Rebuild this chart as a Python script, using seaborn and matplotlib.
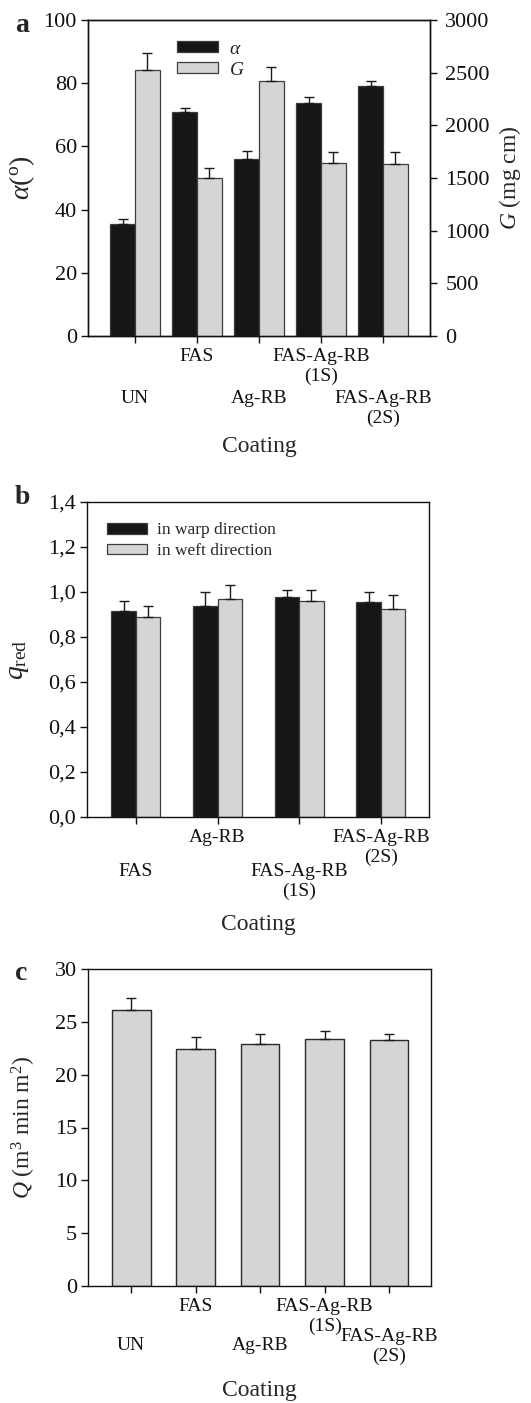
import numpy as np
import pandas as pd
import matplotlib
matplotlib.use("Agg")
import matplotlib.pyplot as plt
from matplotlib.patches import Patch
import seaborn as sns

# ---------------- data ----------------
coatings_a = ["UN", "FAS", "Ag-RB", "FAS-Ag-RB\n(1S)", "FAS-Ag-RB\n(2S)"]
alpha_vals = [35.5, 70.9, 56.0, 73.6, 79.2]
alpha_err = [1.5, 1.4, 2.4, 2.1, 1.6]
g_vals = [2522, 1500, 2418, 1646, 1630]
g_err = [162, 98, 139, 101, 120]

coatings_b = ["FAS", "Ag-RB", "FAS-Ag-RB\n(1S)", "FAS-Ag-RB\n(2S)"]
warp_vals = [0.917, 0.936, 0.979, 0.954]
warp_err = [0.041, 0.064, 0.028, 0.046]
weft_vals = [0.891, 0.969, 0.962, 0.923]
weft_err = [0.045, 0.063, 0.045, 0.065]

coatings_c = ["UN", "FAS", "Ag-RB", "FAS-Ag-RB\n(1S)", "FAS-Ag-RB\n(2S)"]
q_vals = [26.1, 22.4, 22.9, 23.4, 23.3]
q_err = [1.2, 1.15, 0.95, 0.75, 0.55]

yticks_a_left = [0, 20, 40, 60, 80, 100]
yticks_a_right = [0, 500, 1000, 1500, 2000, 2500, 3000]
yticks_b = [0.0, 0.2, 0.4, 0.6, 0.8, 1.0, 1.2, 1.4]
yticklabels_b = ["0,0", "0,2", "0,4", "0,6", "0,8", "1,0", "1,2", "1,4"]
yticks_c = [0, 5, 10, 15, 20, 25, 30]

series_a = ["α", "G"]
series_b = ["in warp direction", "in weft direction"]

# ---------------- style ----------------
sns.set_style("ticks")
plt.rcParams["font.family"] = ["Liberation Serif", "DejaVu Serif"]
plt.rcParams["mathtext.fontset"] = "custom"
plt.rcParams["mathtext.rm"] = "Liberation Serif"
plt.rcParams["mathtext.it"] = "Liberation Serif:italic"
plt.rcParams["mathtext.bf"] = "Liberation Serif:bold"
plt.rcParams["axes.linewidth"] = 1.0
plt.rcParams["axes.edgecolor"] = "#111111"

BLACK = "#161616"
GREY = "#d4d5d4"
EDGE = "#3c3c3c"
TICK_FS = 16
XT_FS = 14
LAB_FS = 17

fig = plt.figure(figsize=(5.31, 14.03), dpi=100)
W, H = 531.0, 1403.0


def add_ax(left, right, top, bottom):
    return fig.add_axes([left / W, 1 - bottom / H, (right - left) / W, (bottom - top) / H])


def add_errors(ax, errs_sorted):
    bars = sorted([p for p in ax.patches if p.get_height() > 0], key=lambda p: p.get_x())
    xs = [p.get_x() + p.get_width() / 2 for p in bars]
    ys = [p.get_height() for p in bars]
    ax.errorbar(xs, ys, yerr=[np.zeros(len(ys)), errs_sorted], fmt="none",
                ecolor="#1a1a1a", elinewidth=1.0, capsize=3.3, capthick=1.0, zorder=5)


def style_axis(ax):
    ax.tick_params(axis="both", direction="out", length=5, width=1, colors="#111111")
    ax.tick_params(axis="y", labelsize=TICK_FS, pad=3)
    ax.tick_params(axis="x", labelsize=XT_FS)
    for s in ax.spines.values():
        s.set_visible(True)
        s.set_linewidth(1.0)


def stagger(ax, pads):
    ticks = ax.xaxis.get_major_ticks()
    for t, p in zip(ticks, pads):
        t.set_pad(p)


# ================= panel a =================
ax = add_ax(88, 430, 20, 336)
df_a1 = pd.DataFrame({"Coating": coatings_a, "val": alpha_vals, "s": series_a[0]})
df_a2 = pd.DataFrame({"Coating": coatings_a, "val": g_vals, "s": series_a[1]})
pal_a = {series_a[0]: BLACK, series_a[1]: GREY}
sns.barplot(data=df_a1, x="Coating", y="val", hue="s", hue_order=series_a,
            palette=pal_a, width=0.8, gap=0, dodge=True, saturation=1,
            edgecolor=EDGE, linewidth=0.9, legend=False, ax=ax, zorder=2)
add_errors(ax, alpha_err)
ax.set_ylim(0, 100)
ax.set_yticks(yticks_a_left)
ax2 = ax.twinx()
sns.barplot(data=df_a2, x="Coating", y="val", hue="s", hue_order=series_a,
            palette=pal_a, width=0.8, gap=0, dodge=True, saturation=1,
            edgecolor=EDGE, linewidth=0.9, legend=False, ax=ax2, zorder=2)
add_errors(ax2, g_err)
ax2.set_ylim(0, 3000)
ax2.set_yticks(yticks_a_right)
ax.set_xlim(-0.76, 4.76)
for a in (ax, ax2):
    style_axis(a)
ax2.tick_params(axis="y", labelsize=TICK_FS, pad=6)
ax.set_ylabel(r"$\alpha$($^{\rm o}$)", fontsize=LAB_FS + 3)
ax.yaxis.set_label_coords(-0.15, 0.5)
ax2.set_ylabel(r"$G$ (mg cm)", fontsize=LAB_FS)
ax2.yaxis.set_label_coords(1.195, 0.5)
ax.set_xlabel("Coating", fontsize=LAB_FS)
ax.xaxis.set_label_coords(0.5, -0.315)
ax2.set_xlabel("")
stagger(ax, [34, 3.5, 34, 3.5, 34])
handles = [Patch(facecolor=BLACK, edgecolor=EDGE, linewidth=0.9),
           Patch(facecolor=GREY, edgecolor=EDGE, linewidth=0.9)]
ax2.legend(handles, [r"$\alpha$", r"$G$"], loc="upper left", bbox_to_anchor=(0.26, 0.935),
           frameon=False, fontsize=14, handlelength=2.1, handleheight=0.5,
           handletextpad=0.6, labelspacing=0.22, borderpad=0, borderaxespad=0)
fig.text(15 / W, 1 - 25 / H, "a", fontsize=20, fontweight="bold", va="center", ha="left")

# ================= panel b =================
axb = add_ax(87, 429, 502, 817)
df_b = pd.DataFrame({
    "Coating": coatings_b * 2,
    "val": warp_vals + weft_vals,
    "s": [series_b[0]] * 4 + [series_b[1]] * 4,
})
sns.barplot(data=df_b, x="Coating", y="val", hue="s", hue_order=series_b,
            palette={series_b[0]: BLACK, series_b[1]: GREY}, width=0.6, gap=0,
            dodge=True, saturation=1,
            edgecolor=EDGE, linewidth=0.9, legend=False, ax=axb, zorder=2)
errs_b = [e for pair in zip(warp_err, weft_err) for e in pair]
add_errors(axb, errs_b)
axb.set_ylim(0, 1.4)
axb.set_yticks(yticks_b)
axb.set_yticklabels(yticklabels_b)
axb.set_xlim(-0.6, 3.59)
style_axis(axb)
axb.set_ylabel(r"$q_{\rm red}$", fontsize=LAB_FS + 3)
axb.yaxis.set_label_coords(-0.165, 0.5)
axb.set_xlabel("Coating", fontsize=LAB_FS)
axb.xaxis.set_label_coords(0.5, -0.308)
stagger(axb, [28, 3.5, 28, 3.5])
handles_b = [Patch(facecolor=BLACK, edgecolor=EDGE, linewidth=0.9),
             Patch(facecolor=GREY, edgecolor=EDGE, linewidth=0.9)]
axb.legend(handles_b, series_b, loc="upper left", bbox_to_anchor=(0.058, 0.935),
           frameon=False, fontsize=12.5, handlelength=2.3, handleheight=0.57,
           handletextpad=0.57, labelspacing=0.27, borderpad=0, borderaxespad=0)
fig.text(15 / W, 1 - 497 / H, "b", fontsize=20, fontweight="bold", va="center", ha="left")

# ================= panel c =================
axc = add_ax(88, 431, 969, 1286)
df_c = pd.DataFrame({"Coating": coatings_c, "val": q_vals})
sns.barplot(data=df_c, x="Coating", y="val", color=GREY, width=0.6,
            edgecolor="#2a2a2a", linewidth=1.0, ax=axc, zorder=2, saturation=1)
add_errors(axc, q_err)
axc.set_ylim(0, 30)
axc.set_yticks(yticks_c)
axc.set_xlim(-0.67, 4.65)
style_axis(axc)
axc.set_ylabel(r"$Q$ (m$^3$ min m$^2$)", fontsize=LAB_FS)
axc.yaxis.set_label_coords(-0.145, 0.5)
axc.set_xlabel("Coating", fontsize=LAB_FS)
axc.xaxis.set_label_coords(0.5, -0.297)
stagger(axc, [32, 3.5, 32, 3.5, 25])
fig.text(15 / W, 1 - 973 / H, "c", fontsize=20, fontweight="bold", va="center", ha="left")

fig.savefig("out.png", dpi=100)
